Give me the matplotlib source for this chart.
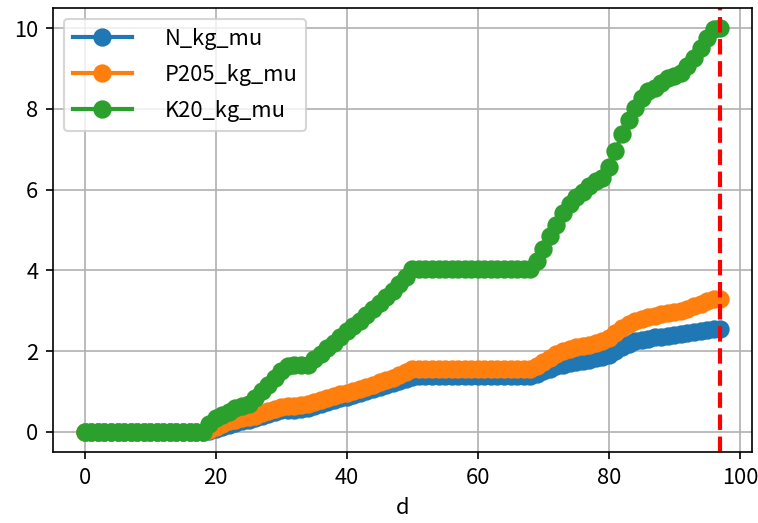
import matplotlib
matplotlib.use("Agg")
import matplotlib.pyplot as plt
import numpy as np

plt.rcParams['font.family'] = ['Noto Sans CJK SC', 'DejaVu Sans']

# 天数与累计施肥量
days = list(range(0, 98))

n_kg_mu = ([0.0] * 19 +
           [0.03, 0.08, 0.13, 0.18, 0.22, 0.26, 0.30, 0.34, 0.39, 0.44,
            0.49, 0.53, 0.55, 0.55, 0.56, 0.58, 0.63, 0.68, 0.73, 0.78,
            0.83, 0.87, 0.91, 0.96, 1.00, 1.05, 1.10, 1.15, 1.20, 1.25,
            1.30, 1.36] +
           [1.38] * 18 +
           [1.43, 1.50, 1.56, 1.62, 1.66, 1.70, 1.73, 1.76, 1.79, 1.82,
            1.85, 1.90, 2.00, 2.10, 2.18, 2.24, 2.28, 2.31, 2.34, 2.36,
            2.38, 2.40, 2.42, 2.44, 2.47, 2.50, 2.52, 2.54, 2.55])

p2o5_kg_mu = ([0.0] * 19 +
              [0.05, 0.12, 0.20, 0.26, 0.30, 0.33, 0.36, 0.40, 0.46, 0.52,
               0.57, 0.62, 0.65, 0.65, 0.66, 0.68, 0.73, 0.78, 0.83, 0.88,
               0.93, 0.97, 1.02, 1.07, 1.12, 1.17, 1.23, 1.28, 1.34, 1.40,
               1.47, 1.55] +
              [1.56] * 18 +
              [1.62, 1.72, 1.82, 1.92, 2.00, 2.05, 2.09, 2.12, 2.15, 2.20,
               2.25, 2.32, 2.45, 2.57, 2.67, 2.74, 2.80, 2.84, 2.88, 2.91,
               2.94, 2.97, 3.00, 3.05, 3.11, 3.17, 3.23, 3.28, 3.30])

k2o_kg_mu = ([0.0] * 19 +
             [0.20, 0.33, 0.42, 0.50, 0.58, 0.64, 0.69, 0.85, 1.00, 1.15,
              1.33, 1.50, 1.62, 1.65, 1.65, 1.66, 1.80, 1.94, 2.08, 2.21,
              2.35, 2.50, 2.62, 2.75, 2.90, 3.05, 3.20, 3.35, 3.50, 3.65,
              3.83, 4.03] +
             [4.04] * 18 +
             [4.22, 4.53, 4.85, 5.13, 5.42, 5.65, 5.81, 5.93, 6.10, 6.22,
              6.28, 6.55, 6.96, 7.37, 7.73, 8.03, 8.28, 8.44, 8.53, 8.65,
              8.77, 8.81, 8.90, 9.06, 9.27, 9.51, 9.76, 9.97, 10.0])

series = [
    ('N_kg_mu', n_kg_mu, '#1f77b4'),
    ('P205_kg_mu', p2o5_kg_mu, '#ff7f0e'),
    ('K20_kg_mu', k2o_kg_mu, '#2ca02c'),
]
cut_day = 97

fig = plt.figure(figsize=(759 / 150, 523 / 150), dpi=150)
ax = fig.add_subplot(111)
fig.subplots_adjust(left=53 / 759, right=752 / 759, top=1 - 8 / 523, bottom=1 - 452 / 523)

for label, values, color in series:
    ax.plot(days, values, marker='o', markersize=7.8, linewidth=2,
            color=color, label=label)

ax.axvline(cut_day, color='red', linestyle='--', linewidth=2)

ax.set_xlabel('d', fontsize=10.5)
ax.set_yticks([0, 2, 4, 6, 8, 10])
ax.tick_params(labelsize=10.5)
ax.grid(True)
ax.legend(loc='upper left', fontsize=10.5, handlelength=2.7,
          handletextpad=1.5, labelspacing=0.65)

fig.savefig('out.png', dpi=150)
